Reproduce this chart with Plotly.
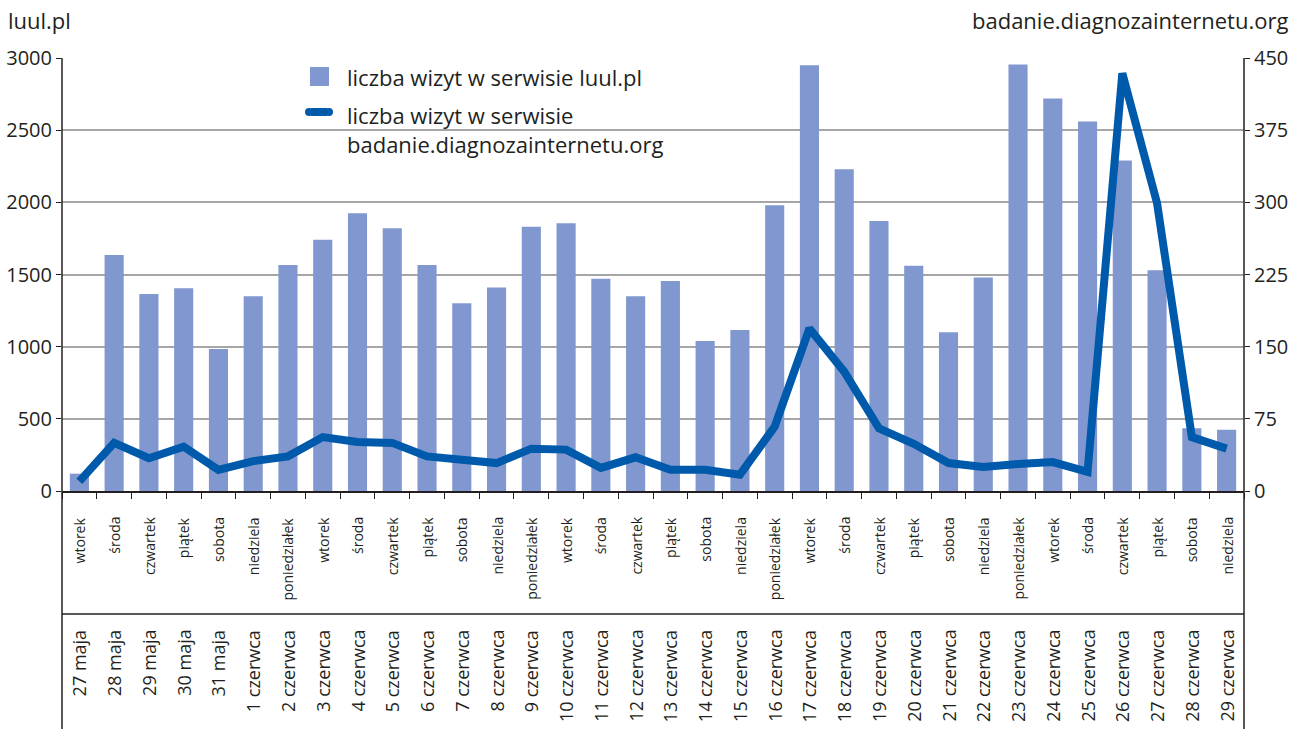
import plotly.graph_objects as go

dates = ["27 maja", "28 maja", "29 maja", "30 maja", "31 maja",
         "1 czerwca", "2 czerwca", "3 czerwca", "4 czerwca", "5 czerwca",
         "6 czerwca", "7 czerwca", "8 czerwca", "9 czerwca", "10 czerwca",
         "11 czerwca", "12 czerwca", "13 czerwca", "14 czerwca", "15 czerwca",
         "16 czerwca", "17 czerwca", "18 czerwca", "19 czerwca", "20 czerwca",
         "21 czerwca", "22 czerwca", "23 czerwca", "24 czerwca", "25 czerwca",
         "26 czerwca", "27 czerwca", "28 czerwca", "29 czerwca"]
days = ["wtorek", "środa", "czwartek", "piątek", "sobota", "niedziela",
        "poniedziałek", "wtorek", "środa", "czwartek", "piątek", "sobota",
        "niedziela", "poniedziałek", "wtorek", "środa", "czwartek", "piątek",
        "sobota", "niedziela", "poniedziałek", "wtorek", "środa", "czwartek",
        "piątek", "sobota", "niedziela", "poniedziałek", "wtorek", "środa",
        "czwartek", "piątek", "sobota", "niedziela"]
luul_visits = [120, 1635, 1365, 1405, 984, 1350, 1565, 1740, 1925, 1820,
               1565, 1300, 1410, 1830, 1855, 1470, 1350, 1455, 1040, 1115,
               1980, 2950, 2230, 1870, 1560, 1100, 1480, 2955, 2720, 2560,
               2290, 1530, 435, 425]
badanie_visits = [10, 50, 34, 46, 22, 31, 36, 56, 51, 50,
                  36, 32, 29, 44, 43, 24, 35, 22, 22, 17,
                  67, 169, 124, 65, 49, 29, 25, 28, 30, 20,
                  434, 299, 56, 44]
left_ticks = [0, 500, 1000, 1500, 2000, 2500, 3000]
right_ticks = [0, 75, 150, 225, 300, 375, 450]
legend_labels = ["liczba wizyt w serwisie luul.pl",
                 "liczba wizyt w serwisie<br>badanie.diagnozainternetu.org"]

FONT = "Open Sans"
TXT = "#231f20"
BAR_COL = "#8098cf"
LINE_COL = "#005aab"
W, H = 1292, 729
ML, MR, MT, MB = 62, 48, 58, 238
PH = H - MT - MB
PW = W - ML - MR


def py(p):
    return (H - MB - p) / PH


def px(p):
    return (p - ML) / PW


fig = go.Figure()
fig.add_trace(go.Bar(x=dates, y=luul_visits, name=legend_labels[0],
                     marker=dict(color=BAR_COL, line=dict(width=0)), yaxis="y"))
fig.add_trace(go.Scatter(x=dates, y=badanie_visits, mode="lines",
                         name=legend_labels[1],
                         line=dict(color=LINE_COL, width=8), yaxis="y2"))

annotations = []
for d, dn in zip(dates, days):
    annotations.append(dict(x=d, xref="x", y=py(515), yref="paper", text=dn,
                            textangle=-90, showarrow=False, yanchor="top",
                            xanchor="center", font=dict(size=14, color=TXT, family=FONT)))
    annotations.append(dict(x=d, xref="x", y=py(628), yref="paper", text=d,
                            textangle=-90, showarrow=False, yanchor="top",
                            xanchor="center", font=dict(size=18, color=TXT, family=FONT)))
annotations.append(dict(x=px(6), xref="paper", y=py(20), yref="paper", text="luul.pl",
                        showarrow=False, xanchor="left", yanchor="middle",
                        font=dict(size=22, color=TXT, family=FONT)))
annotations.append(dict(x=px(1290), xref="paper", y=py(20), yref="paper",
                        text="badanie.diagnozainternetu.org", showarrow=False,
                        xanchor="right", yanchor="middle",
                        font=dict(size=22, color=TXT, family=FONT)))
# legend texts
annotations.append(dict(x=px(345), xref="paper", y=py(77), yref="paper", text=legend_labels[0],
                        showarrow=False, xanchor="left", yanchor="middle", align="left",
                        font=dict(size=22, color=TXT, family=FONT)))
annotations.append(dict(x=px(345), xref="paper", y=py(98), yref="paper", text=legend_labels[1],
                        showarrow=False, xanchor="left", yanchor="top", align="left",
                        font=dict(size=22, color=TXT, family=FONT)))

line_col = "#231f20"
shapes = [
    dict(type="line", xref="paper", yref="paper", x0=0, x1=0, y0=1, y1=py(729),
         line=dict(color=line_col, width=1.5)),
    dict(type="line", xref="paper", yref="paper", x0=1, x1=1, y0=1, y1=py(729),
         line=dict(color=line_col, width=1.5)),
    dict(type="line", xref="paper", yref="paper", x0=0, x1=1, y0=py(614), y1=py(614),
         line=dict(color=line_col, width=1.5)),
    # legend symbols
    dict(type="rect", xref="paper", yref="paper", x0=px(310), x1=px(329), y0=py(67), y1=py(86),
         fillcolor=BAR_COL, line=dict(width=0)),
    dict(type="line", xref="paper", yref="paper", x0=px(311), x1=px(327), y0=py(112), y1=py(112),
         line=dict(color=LINE_COL, width=8)),
    dict(type="circle", xref="paper", yref="paper", x0=px(305), x1=px(313), y0=py(108), y1=py(116),
         fillcolor=LINE_COL, line=dict(width=0)),
    dict(type="circle", xref="paper", yref="paper", x0=px(325), x1=px(333), y0=py(108), y1=py(116),
         fillcolor=LINE_COL, line=dict(width=0)),
]

fig.update_layout(
    width=W, height=H,
    margin=dict(l=ML, r=MR, t=MT, b=MB, autoexpand=False),
    paper_bgcolor="white", plot_bgcolor="white",
    font=dict(family=FONT, color=TXT, size=22),
    bargap=0.45,
    showlegend=False,
    xaxis=dict(type="category", showticklabels=False, ticks="outside", tickson="boundaries",
               ticklen=6, tickcolor=line_col, showline=True, linecolor=line_col, linewidth=1.5,
               showgrid=False, range=[-0.5, len(dates) - 0.5], automargin=False),
    yaxis=dict(range=[0, 3000], tickvals=left_ticks, ticks="outside", ticklen=5,
               tickcolor=line_col, showline=False, showgrid=True, gridcolor="#a6a6a6",
               gridwidth=1.5, zeroline=False, tickfont=dict(size=20), automargin=False,
               ticklabelstandoff=0),
    yaxis2=dict(range=[0, 450], tickvals=right_ticks, overlaying="y", side="right",
                ticks="outside", ticklen=5, tickcolor=line_col, showline=False,
                showgrid=False, zeroline=False, tickfont=dict(size=20), automargin=False,
                ticklabelstandoff=0),
    annotations=annotations,
    shapes=shapes,
)

fig.write_html("out.html")
